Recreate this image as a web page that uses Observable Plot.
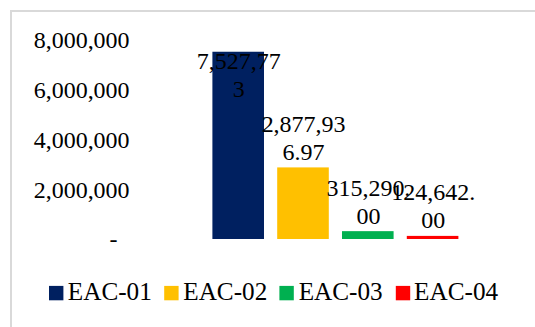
<!DOCTYPE html>
<html><head><meta charset="utf-8">
<script src="https://cdn.jsdelivr.net/npm/d3@7"></script>
<script src="https://cdn.jsdelivr.net/npm/@observablehq/plot@0.6"></script>
<style>
body{margin:0;padding:0;background:#fff;}
#frame{position:absolute;left:10px;top:10px;width:600px;height:400px;border:2px solid #d9d9d9;box-sizing:border-box;}
#chart{position:absolute;left:0;top:0;transform:scale(1.2);transform-origin:0 0;}
#legend{position:absolute;left:49px;top:276px;font-family:"Liberation Serif";font-size:21px;transform:scale(1.2);transform-origin:0 50%;}
#legend .lg-swatches{font-family:"Liberation Serif";font-size:21px;color:#000;margin:0;}
#legend .lg-swatches-wrap{min-height:33px;flex-wrap:nowrap;}
#legend .lg-swatches-wrap .lg-swatch{margin-right:10.5px;}
#legend .lg-swatch > svg{margin-right:3.7px;}
</style></head>
<body><div id="frame"></div><div id="chart"></div><div id="legend"></div>
<script>
const categories = ["EAC-01", "EAC-02", "EAC-03", "EAC-04"];
const values = [7527773, 2877936.97, 315290.00, 124642.00];
const labels = ["7,527,77\n3", "2,877,93\n6.97", "315,290.\n00", "124,642.\n00"];
const colors = ["#002060", "#FFC000", "#00B050", "#FF0000"];
const yTicks = [0, 2000000, 4000000, 6000000, 8000000];

const data = categories.map((c, i) => ({cat: c, value: values[i], label: labels[i]}));
const fits = d => d.value < 6000000;
const S = 1.2; // the chart is drawn at 1/S and scaled up by CSS

const chart = Plot.plot({
  width: 535 / S,
  height: 250 / S,
  marginLeft: 205 / S,
  marginRight: 70 / S,
  marginTop: 40 / S,
  marginBottom: 11 / S,
  style: {fontFamily: "Liberation Serif", fontSize: "20px", color: "#000", background: "transparent", overflow: "visible"},
  x: {domain: categories, paddingInner: 0.2, paddingOuter: 0.1, axis: null},
  y: {domain: [0, 8000000], axis: null},
  color: {domain: categories, range: colors},
  marks: [
    Plot.axisY({
      ticks: yTicks, tickSize: 0, tickPadding: 76 / S, fontSize: 20, label: null,
      tickFormat: d => d === 0 ? "-\u00a0\u00a0" : d3.format(",")(d)
    }),
    Plot.barY(data, {x: "cat", y: "value", fill: "cat"}),
    Plot.text(data.filter(fits), {
      x: "cat", y: "value", text: "label", lineAnchor: "bottom",
      dy: -8 / S, lineHeight: 1.17, fontSize: 20, fill: "#000"
    }),
    Plot.text(data.filter(d => !fits(d)), {
      x: "cat", frameAnchor: "top", text: "label", lineAnchor: "top",
      dy: 8 / S, lineHeight: 1.17, fontSize: 20, fill: "#000"
    })
  ]
});
document.getElementById("chart").appendChild(chart);

const legend = Plot.legend({
  color: {type: "ordinal", domain: categories, range: colors},
  legend: "swatches",
  swatchSize: 12,
  className: "lg",
  style: {fontFamily: "Liberation Serif", fontSize: "21px", color: "#000"}
});
document.getElementById("legend").appendChild(legend);
</script>
</body></html>
